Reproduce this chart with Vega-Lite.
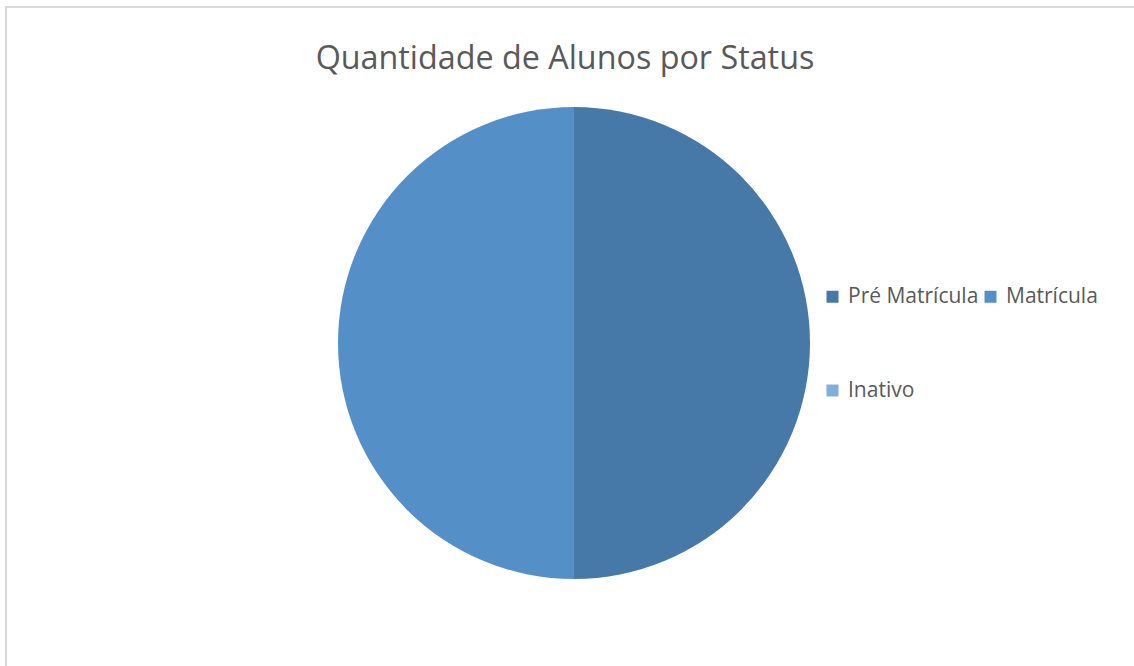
{
  "$schema": "https://vega.github.io/schema/vega-lite/v6.json",
  "width": 1136,
  "height": 672,
  "autosize": {"type": "none"},
  "padding": {"left": 6, "top": 7, "right": -8, "bottom": -13},
  "background": "white",
  "view": {"stroke": "#D9D9D9", "strokeWidth": 2},
  "title": {
    "text": "Quantidade de Alunos por Status",
    "font": "Open Sans",
    "fontSize": 32.3,
    "fontWeight": "normal",
    "color": "#595959",
    "anchor": "middle",
    "baseline": "alphabetic",
    "offset": 0,
    "dy": 94,
    "dx": -9
  },
  "data": {
    "values": [
      {"status": "Pré Matrícula", "alunos": 1, "ordem": 1},
      {"status": "Matrícula", "alunos": 1, "ordem": 2},
      {"status": "Inativo", "alunos": 0, "ordem": 3}
    ]
  },
  "mark": {"type": "arc", "outerRadius": 236},
  "encoding": {
    "theta": {"field": "alunos", "type": "quantitative", "stack": true},
    "order": {"field": "ordem", "type": "quantitative"},
    "color": {
      "field": "status",
      "type": "nominal",
      "sort": ["Pré Matrícula", "Matrícula", "Inativo"],
      "scale": {
        "domain": ["Pré Matrícula", "Matrícula", "Inativo"],
        "range": ["#4678A8", "#558FC8", "#82AEDC"]
      },
      "legend": {
        "title": null,
        "orient": "none",
        "direction": "horizontal",
        "legendX": 816,
        "legendY": 279,
        "columns": 2,
        "symbolType": "square",
        "symbolSize": 144,
        "symbolStrokeWidth": 0,
        "labelFont": "Open Sans",
        "labelFontSize": 21,
        "labelColor": "#595959",
        "labelOffset": 5,
        "columnPadding": 1,
        "rowPadding": 72,
        "labelLimit": 300
      }
    }
  },
  "config": {
    "view": {"stroke": "#D9D9D9", "strokeWidth": 2}
  }
}
